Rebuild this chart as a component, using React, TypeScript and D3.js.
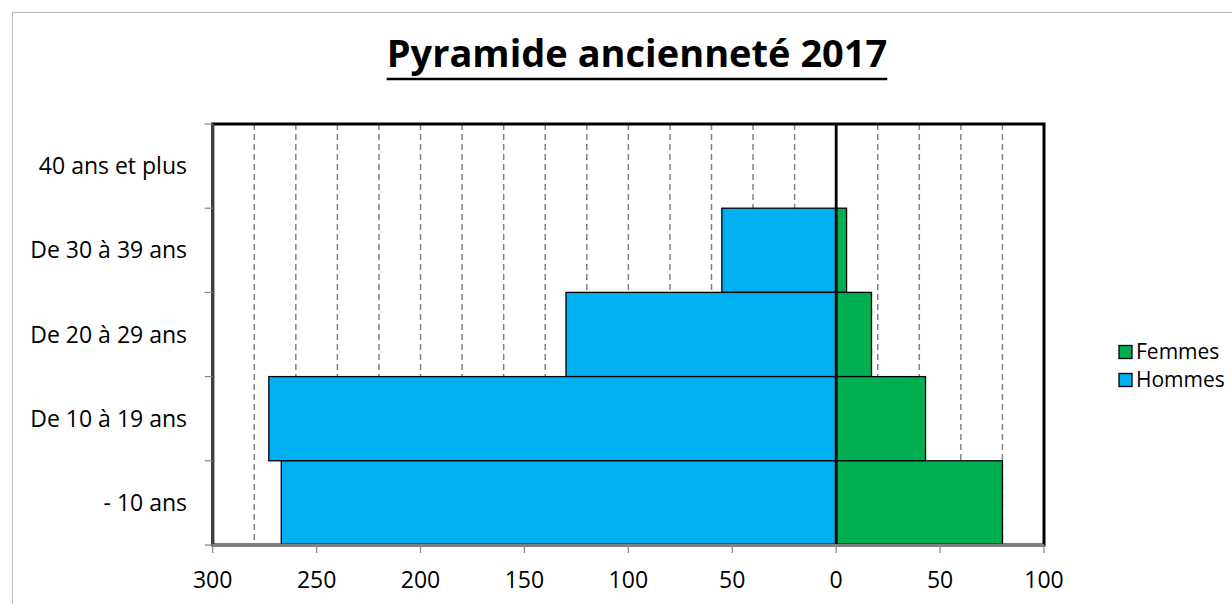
import React, { useLayoutEffect, useRef, useState } from "react";
import * as d3 from "d3";

const categories = ["40 ans et plus", "De 30 à 39 ans", "De 20 à 29 ans", "De 10 à 19 ans", "- 10 ans"];
const hommes = [0, 55, 130, 273, 267];
const femmes = [0, 5, 17, 43, 80];
const xTicks = [-300, -250, -200, -150, -100, -50, 0, 50, 100];
const gridValues = d3.range(-280, 100, 20).filter((v) => v !== 0);
const seriesNames = ["Femmes", "Hommes"];
const seriesColors = ["#00B050", "#00B0F0"];
const title = "Pyramide ancienneté 2017";

const W = 1232;
const H = 604;
const left = 212.7;
const right = 1044;
const top = 124;
const bottom = 545;
const font = "'Open Sans', 'Liberation Sans', sans-serif";

export default function App() {
  const x = d3.scaleLinear().domain([-300, 100]).range([left, right]);
  const y = d3.scaleBand<string>().domain(categories).range([top, bottom]).padding(0);
  const titleRef = useRef<SVGTextElement>(null);
  const [tw, setTw] = useState(510);
  useLayoutEffect(() => {
    if (titleRef.current) setTw(titleRef.current.getComputedTextLength());
  }, []);
  const titleX = 637;
  const boundaries = categories.map((c) => y(c) as number).concat([bottom]);

  return (
    <svg
      width={W}
      height={H}
      style={{ position: "absolute", left: 0, top: 0, background: "#fff" }}
      fontFamily={font}
    >
      <rect x={12.5} y={12.5} width={1400} height={900} fill="#fff" stroke="#bfbfbf" strokeWidth={1.2} />
      <text
        ref={titleRef}
        x={titleX}
        y={67}
        textAnchor="middle"
        fontSize={38}
        fontWeight="bold"
        fill="#000"
      >
        {title}
      </text>
      <line x1={titleX - tw / 2} x2={titleX + tw / 2} y1={79} y2={79} stroke="#000" strokeWidth={2.5} />

      {/* gridlines */}
      {gridValues.map((v) => (
        <line
          key={v}
          x1={x(v)}
          x2={x(v)}
          y1={top}
          y2={bottom}
          stroke="#808080"
          strokeWidth={1.5}
          strokeDasharray="6,4"
        />
      ))}

      {/* bars */}
      {categories.map((c, i) => (
        <g key={c}>
          {hommes[i] > 0 && (
            <rect
              x={x(-hommes[i])}
              y={y(c) as number}
              width={x(0) - x(-hommes[i])}
              height={y.bandwidth()}
              fill={seriesColors[1]}
              stroke="#000"
              strokeWidth={1.3}
            />
          )}
          {femmes[i] > 0 && (
            <rect
              x={x(0)}
              y={y(c) as number}
              width={x(femmes[i]) - x(0)}
              height={y.bandwidth()}
              fill={seriesColors[0]}
              stroke="#000"
              strokeWidth={1.3}
            />
          )}
        </g>
      ))}

      {/* zero line */}
      <line x1={x(0)} x2={x(0)} y1={top} y2={bottom} stroke="#000" strokeWidth={2.8} />

      {/* plot border */}
      <rect x={left} y={top} width={right - left} height={bottom - top} fill="none" stroke="#000" strokeWidth={3} />
      {/* axes */}
      <line x1={left} x2={left} y1={top} y2={bottom} stroke="#404040" strokeWidth={3} />
      <line x1={left} x2={right} y1={bottom} y2={bottom} stroke="#7f7f7f" strokeWidth={2} />

      {boundaries.map((b, i) => (
        <line key={i} x1={left - 8} x2={left} y1={b} y2={b} stroke="#868686" strokeWidth={1.2} />
      ))}
      {xTicks.map((t) => (
        <g key={t}>
          <line x1={x(t)} x2={x(t)} y1={bottom} y2={bottom + 8} stroke="#868686" strokeWidth={1.2} />
          <text x={x(t)} y={588} textAnchor="middle" fontSize={23} fill="#000">
            {Math.abs(t)}
          </text>
        </g>
      ))}
      {categories.map((c) => (
        <text
          key={c}
          x={187}
          y={(y(c) as number) + y.bandwidth() / 2}
          dy="0.35em"
          textAnchor="end"
          fontSize={23}
          fill="#000"
        >
          {c}
        </text>
      ))}

      {/* legend */}
      {seriesNames.map((s, i) => (
        <g key={s} transform={`translate(1119, ${352 + i * 28})`}>
          <rect x={0} y={-6.5} width={13} height={13} fill={seriesColors[i]} stroke="#000" strokeWidth={1.3} />
          <text x={17} y={0} dy="0.35em" fontSize={21} fill="#000">
            {s}
          </text>
        </g>
      ))}
    </svg>
  );
}
